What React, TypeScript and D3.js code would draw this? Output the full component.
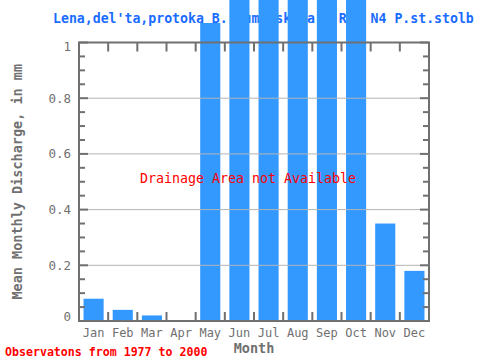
import React from "react";
import * as d3 from "d3";

const months = ["Jan", "Feb", "Mar", "Apr", "May", "Jun", "Jul", "Aug", "Sep", "Oct", "Nov", "Dec"];
// mean monthly discharge, mm (May-Oct run off the top of the chart)
const discharge = [0.08, 0.04, 0.02, 0, 1.07, 3.2, 2.9, 1.9, 1.45, 1.3, 0.35, 0.18];
const yTicks = [0, 0.2, 0.4, 0.6, 0.8, 1];
const yTickLabels = ["0", "0.2", "0.4", "0.6", "0.8", "1"];

const title = "Lena,del'ta,protoka B. Tumatskaja - Rej N4 P.st.stolb";
const yLabel = "Mean Monthly Discharge, in mm";
const xLabel = "Month";
const note = "Drainage Area not Available";
const footer = "Observatons from 1977 to 2000";

const W = 480;
const H = 360;
const left = 79;
const right = 429;
const top = 42.5;
const bottom = 321;
const axisColor = "#707070";
const font = "DejaVu Sans Mono, monospace";

export default function App() {
  const x = d3.scaleBand<string>().domain(months).range([left, right]).padding(0);
  const y = d3.scaleLinear().domain([0, 1]).range([bottom, top]);
  const barW = x.bandwidth() * 0.69;
  const minor = d3.range(0, 1.0001, 0.05);
  const bounds = months.slice(1).map((m) => x(m) as number);

  return (
    <svg width={W} height={H} style={{ position: "absolute", left: 0, top: 0, background: "#fff" }}>
      <text x={53} y={23} fill="#1a6cff" fontFamily={font} fontWeight="bold" fontSize={13.2}>
        {title}
      </text>

      {months.map((m, i) => (
        <rect
          key={m}
          x={(x(m) as number) + (x.bandwidth() - barW) / 2}
          y={Math.min(y(discharge[i]), y(0))}
          width={barW}
          height={Math.abs(y(0) - y(discharge[i]))}
          fill="#3399ff"
        />
      ))}

      {yTicks.slice(1, -1).map((t) => (
        <line key={t} x1={left} x2={right} y1={y(t)} y2={y(t)} stroke="#b4b4b4" strokeWidth={1} />
      ))}

      <text x={248} y={183} fill="#ff0000" fontFamily={font} fontSize={13.3} textAnchor="middle">
        {note}
      </text>

      <rect x={left} y={top} width={right - left} height={bottom - top} fill="none" stroke={axisColor} strokeWidth={2} />

      {minor.map((t, i) => {
        const major = i % 4 === 0;
        const len = major ? 9 : 6;
        return (
          <g key={i} stroke={axisColor} strokeWidth={2}>
            <line x1={left} x2={left + len} y1={y(t)} y2={y(t)} />
            <line x1={right} x2={right - len} y1={y(t)} y2={y(t)} />
          </g>
        );
      })}

      {bounds.map((b, i) => (
        <g key={i} stroke={axisColor} strokeWidth={2}>
          <line x1={b} x2={b} y1={bottom} y2={bottom - 9} />
          <line x1={b} x2={b} y1={top} y2={top + 9} />
        </g>
      ))}

      {yTicks.map((t, i) => (
        <text
          key={t}
          x={71}
          y={y(t) + (i === 0 ? -4 : i === yTicks.length - 1 ? 4 : 0)}
          dy="0.35em"
          fill={axisColor}
          fontFamily={font}
          fontSize={12.5}
          textAnchor="end"
        >
          {yTickLabels[i]}
        </text>
      ))}

      {months.map((m) => (
        <text
          key={m}
          x={(x(m) as number) + x.bandwidth() / 2}
          y={337}
          fill={axisColor}
          fontFamily={font}
          fontSize={12}
          textAnchor="middle"
        >
          {m}
        </text>
      ))}

      <text x={(left + right) / 2} y={353} fill={axisColor} fontFamily={font} fontWeight="bold" fontSize={13.5} textAnchor="middle">
        {xLabel}
      </text>

      <text
        transform={`translate(22,${(top + bottom) / 2}) rotate(-90)`}
        fill={axisColor}
        fontFamily={font}
        fontWeight="bold"
        fontSize={13.5}
        textAnchor="middle"
      >
        {yLabel}
      </text>

      <text x={5} y={356} fill="#ff0000" fontFamily={font} fontWeight="bold" fontSize={11.6}>
        {footer}
      </text>
    </svg>
  );
}
